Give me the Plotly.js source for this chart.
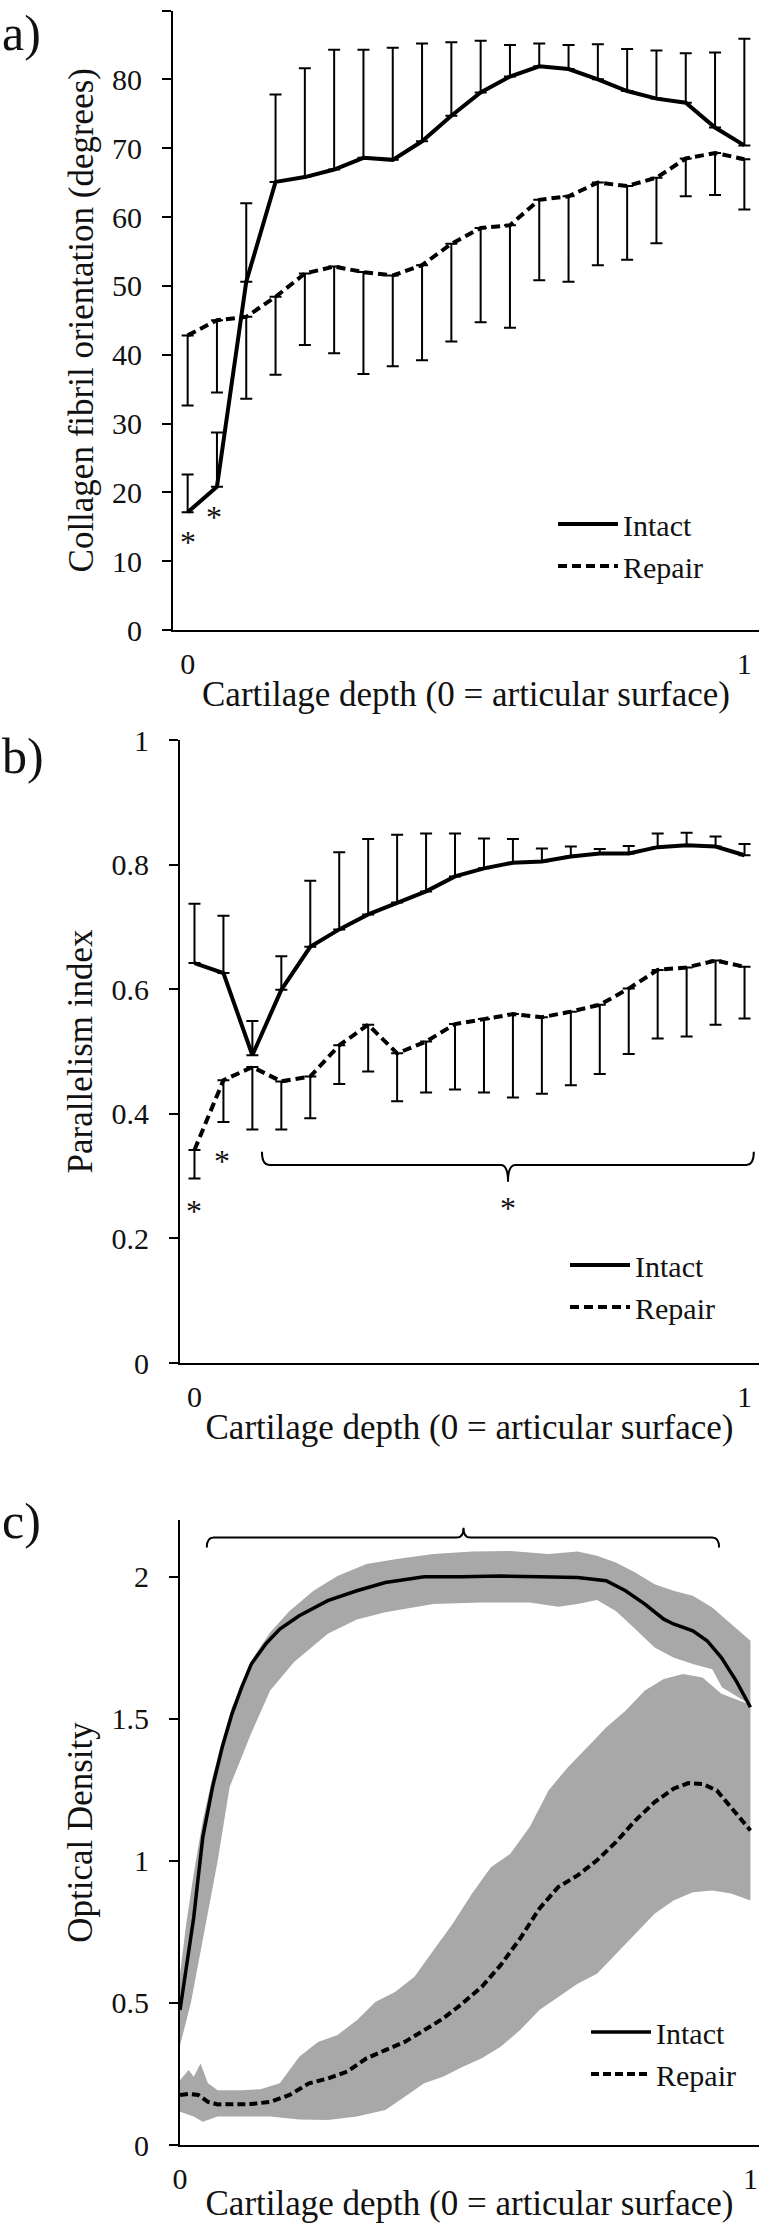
<!DOCTYPE html>
<html>
<head>
<meta charset="utf-8">
<script src="https://cdn.plot.ly/plotly-3.0.1.min.js"></script>
<style>
  html, body { margin: 0; padding: 0; background: #fff; }
  #fig { width: 759px; height: 2223px; }
</style>
</head>
<body>
<div id="fig"></div>
<script>
// depth bins (Excel category axis, 0 = articular surface ... 1 = bone)
var depthBins = [1, 2, 3, 4, 5, 6, 7, 8, 9, 10, 11, 12, 13, 14, 15, 16, 17, 18, 19, 20];
var depthTicks = [1, 20];
var depthTickText = ['0', '1'];

// a) collagen fibril orientation (degrees), mean and SD
var aIntact = [17.1, 20.8, 50.6, 65.1, 65.8, 66.9, 68.6, 68.3, 71.0, 74.7, 78.1, 80.4, 81.9, 81.5, 80.0, 78.3, 77.2, 76.6, 73.0, 70.4];
var aIntactSD = [5.5, 7.9, 11.4, 12.7, 15.8, 17.4, 15.7, 16.3, 14.2, 10.7, 7.5, 4.6, 3.3, 3.5, 5.1, 6.1, 7.0, 7.2, 10.9, 15.5];
var aRepair = [42.8, 45.0, 45.5, 48.4, 51.8, 52.8, 52.0, 51.5, 53.0, 56.1, 58.4, 58.8, 62.5, 63.0, 65.0, 64.5, 65.7, 68.5, 69.3, 68.4];
var aRepairSD = [10.2, 10.5, 11.9, 11.3, 10.4, 12.6, 14.8, 13.2, 13.8, 14.2, 13.7, 14.9, 11.7, 12.4, 12.0, 10.7, 9.5, 5.5, 6.1, 7.3];

// b) parallelism index, mean and SD
var bIntact = [0.642, 0.626, 0.494, 0.599, 0.668, 0.696, 0.720, 0.739, 0.757, 0.781, 0.794, 0.803, 0.805, 0.813, 0.818, 0.818, 0.828, 0.831, 0.829, 0.815];
var bIntactSD = [0.095, 0.092, 0.055, 0.054, 0.106, 0.124, 0.121, 0.109, 0.093, 0.069, 0.048, 0.038, 0.021, 0.016, 0.007, 0.012, 0.022, 0.020, 0.016, 0.018];
var bRepair = [0.342, 0.454, 0.475, 0.452, 0.460, 0.510, 0.543, 0.497, 0.516, 0.544, 0.552, 0.560, 0.555, 0.564, 0.575, 0.601, 0.631, 0.635, 0.646, 0.636];
var bRepairSD = [0.046, 0.067, 0.100, 0.077, 0.067, 0.062, 0.075, 0.077, 0.082, 0.105, 0.118, 0.134, 0.123, 0.118, 0.111, 0.105, 0.110, 0.111, 0.103, 0.083];

// c) optical density profiles (depth 0..1)
var cIntactDepth = [0, 0.011, 0.024, 0.032, 0.040, 0.057, 0.074, 0.091, 0.108, 0.125, 0.150, 0.175, 0.209, 0.259, 0.310, 0.360, 0.428, 0.495, 0.562, 0.630, 0.697, 0.747, 0.781, 0.815, 0.848, 0.865, 0.899, 0.924, 0.949, 0.975, 1.0];
var cIntact = [0.475, 0.62, 0.80, 0.943, 1.084, 1.26, 1.40, 1.517, 1.611, 1.693, 1.763, 1.816, 1.863, 1.916, 1.951, 1.98, 2.0, 2.0, 2.003, 2.0, 1.998, 1.986, 1.951, 1.904, 1.851, 1.834, 1.81, 1.775, 1.716, 1.634, 1.541];
var cIntactUpDepth = [0, 0.011, 0.024, 0.040, 0.057, 0.074, 0.091, 0.108, 0.125, 0.158, 0.192, 0.234, 0.276, 0.327, 0.377, 0.444, 0.512, 0.579, 0.646, 0.697, 0.731, 0.764, 0.798, 0.832, 0.865, 0.899, 0.933, 0.966, 1.0];
var cIntactUp = [0.60, 0.78, 0.955, 1.142, 1.295, 1.424, 1.541, 1.617, 1.705, 1.804, 1.88, 1.951, 2.003, 2.045, 2.062, 2.08, 2.089, 2.091, 2.08, 2.089, 2.074, 2.05, 2.015, 1.974, 1.951, 1.933, 1.892, 1.834, 1.775];
var cIntactLoDepth = [0, 0.019, 0.066, 0.087, 0.125, 0.158, 0.200, 0.259, 0.310, 0.360, 0.444, 0.529, 0.613, 0.663, 0.697, 0.731, 0.764, 0.798, 0.832, 0.865, 0.899, 0.933, 0.950, 1.0];
var cIntactLo = [0.35, 0.50, 1.0, 1.26, 1.45, 1.60, 1.70, 1.80, 1.85, 1.875, 1.904, 1.91, 1.91, 1.895, 1.904, 1.918, 1.88, 1.816, 1.751, 1.716, 1.693, 1.675, 1.611, 1.55];
var cRepairDepth = [0, 0.015, 0.032, 0.049, 0.066, 0.091, 0.125, 0.158, 0.192, 0.226, 0.259, 0.293, 0.327, 0.360, 0.394, 0.428, 0.461, 0.495, 0.529, 0.562, 0.596, 0.630, 0.663, 0.697, 0.731, 0.764, 0.798, 0.832, 0.865, 0.891, 0.916, 0.941, 0.966, 1.0];
var cRepair = [0.176, 0.18, 0.176, 0.152, 0.143, 0.143, 0.144, 0.152, 0.176, 0.217, 0.234, 0.258, 0.305, 0.334, 0.363, 0.404, 0.445, 0.498, 0.557, 0.633, 0.726, 0.832, 0.908, 0.949, 1.002, 1.066, 1.142, 1.207, 1.254, 1.274, 1.271, 1.248, 1.189, 1.107];
var cRepairUpDepth = [0, 0.015, 0.024, 0.036, 0.049, 0.066, 0.108, 0.141, 0.175, 0.209, 0.242, 0.276, 0.310, 0.343, 0.377, 0.411, 0.444, 0.478, 0.512, 0.545, 0.579, 0.613, 0.646, 0.680, 0.714, 0.747, 0.781, 0.815, 0.848, 0.882, 0.916, 0.949, 1.0];
var cRepairUp = [0.228, 0.264, 0.24, 0.287, 0.217, 0.193, 0.193, 0.196, 0.217, 0.311, 0.363, 0.387, 0.439, 0.504, 0.539, 0.592, 0.685, 0.779, 0.885, 0.978, 1.025, 1.119, 1.248, 1.33, 1.40, 1.47, 1.529, 1.6, 1.64, 1.658, 1.646, 1.588, 1.55];
var cRepairLoDepth = [0, 0.024, 0.040, 0.066, 0.108, 0.158, 0.209, 0.259, 0.310, 0.360, 0.394, 0.428, 0.461, 0.495, 0.529, 0.562, 0.596, 0.630, 0.663, 0.697, 0.731, 0.764, 0.798, 0.832, 0.865, 0.899, 0.933, 0.966, 1.0];
var cRepairLo = [0.117, 0.1, 0.082, 0.1, 0.1, 0.1, 0.09, 0.088, 0.1, 0.123, 0.17, 0.217, 0.24, 0.275, 0.305, 0.346, 0.404, 0.475, 0.521, 0.568, 0.603, 0.674, 0.744, 0.814, 0.861, 0.89, 0.896, 0.885, 0.861];

var W = 759, H = 2223;
var serif = '"Liberation Serif", "Times New Roman", Times, serif';
var ink = '#111';
var bandGrey = '#a8a8a8';
var zeros = depthBins.map(function () { return 0; });

function band(xu, yu, xl, yl, axis) {
  // closed polygon: upper edge left->right, lower edge right->left
  return {
    x: xu.concat(xl.slice().reverse()),
    y: yu.concat(yl.slice().reverse()),
    xaxis: 'x' + axis, yaxis: 'y' + axis,
    type: 'scatter', mode: 'lines', fill: 'toself',
    fillcolor: bandGrey, line: { width: 0 },
    showlegend: false, hoverinfo: 'skip'
  };
}

function barTrace(name, y, sd, up, axis, legend, dash) {
  return {
    x: depthBins, y: y, name: name,
    xaxis: 'x' + axis, yaxis: 'y' + axis, legend: legend,
    type: 'scatter', mode: 'lines',
    line: { color: '#000', width: 4, dash: dash },
    error_y: {
      type: 'data', symmetric: false,
      array: up ? sd : zeros, arrayminus: up ? zeros : sd,
      color: '#000', thickness: 2, width: 6
    }
  };
}

var data = [
  barTrace('Repair', aRepair, aRepairSD, false, '', 'legend', '9px,5px'),
  barTrace('Intact', aIntact, aIntactSD, true, '', 'legend', 'solid'),
  barTrace('Repair', bRepair, bRepairSD, false, '2', 'legend2', '9px,5px'),
  barTrace('Intact', bIntact, bIntactSD, true, '2', 'legend2', 'solid'),
  band(cRepairUpDepth, cRepairUp, cRepairLoDepth, cRepairLo, '3'),
  band(cIntactUpDepth, cIntactUp, cIntactLoDepth, cIntactLo, '3'),
  { x: cRepairDepth, y: cRepair, name: 'Repair', xaxis: 'x3', yaxis: 'y3', legend: 'legend3',
    type: 'scatter', mode: 'lines', line: { color: '#000', width: 4, dash: '8px,4px' } },
  { x: cIntactDepth, y: cIntact, name: 'Intact', xaxis: 'x3', yaxis: 'y3', legend: 'legend3',
    type: 'scatter', mode: 'lines', line: { color: '#000', width: 3.5 } }
];

function yAxis(top, bottom, title, range, extra) {
  var ax = {
    domain: [1 - bottom / H, 1 - top / H], range: range,
    showline: true, linecolor: '#000', linewidth: 2,
    ticks: 'outside', ticklen: 9, tickwidth: 2, tickcolor: '#000',
    ticklabelstandoff: 14, tickfont: { size: 30 },
    showgrid: false, zeroline: false, automargin: false, fixedrange: true,
    title: { text: title, font: { size: 35 }, standoff: 8 }
  };
  return Object.assign(ax, extra || {});
}

function xAxis(left, anchor, range, extra) {
  var ax = {
    domain: [left / W, 1], anchor: anchor, range: range,
    showline: true, linecolor: '#000', linewidth: 2,
    ticks: '', ticklabelstandoff: 6, tickfont: { size: 30 },
    showgrid: false, zeroline: false, automargin: false, fixedrange: true,
    title: { text: 'Cartilage depth (0 = articular surface)', font: { size: 35 }, standoff: 2 }
  };
  return Object.assign(ax, extra || {});
}

// legend samples in the figure are long (about 60 px)
function legendAt(textX, firstY) {
  return {
    x: (textX - 75) / W, y: 1 - (firstY - 24) / H, xanchor: 'left', yanchor: 'top',
    bgcolor: 'rgba(0,0,0,0)', font: { size: 30 }, traceorder: 'reversed', itemwidth: 60
  };
}

function star(x, y, xr, yr) {
  return { x: x, y: y, xref: xr, yref: yr, text: '*', showarrow: false,
           font: { size: 32, color: ink }, yshift: -8 };
}

function panelLabel(text, cy) {
  return { x: 0, y: 1 - cy / H, xref: 'paper', yref: 'paper', xanchor: 'left', yanchor: 'middle',
           text: text, showarrow: false, font: { size: 50, color: ink } };
}

function brace(xr, yr, x0, x1, xc, yLine, yEnd, yTip, dx) {
  var p = 'M' + x0 + ',' + yEnd + ' Q' + x0 + ',' + yLine + ' ' + (x0 + dx) + ',' + yLine +
          ' L' + (xc - dx) + ',' + yLine + ' Q' + xc + ',' + yLine + ' ' + xc + ',' + yTip +
          ' Q' + xc + ',' + yLine + ' ' + (xc + dx) + ',' + yLine +
          ' L' + (x1 - dx) + ',' + yLine + ' Q' + x1 + ',' + yLine + ' ' + x1 + ',' + yEnd;
  return { type: 'path', xref: xr, yref: yr, path: p, line: { color: '#000', width: 2 } };
}

var layout = {
  width: W, height: H,
  margin: { l: 0, r: 0, t: 0, b: 0 },
  paper_bgcolor: '#fff', plot_bgcolor: 'rgba(0,0,0,0)',
  font: { family: serif, color: ink },
  showlegend: true,
  xaxis: xAxis(173, 'y', [0.5, 20.5], { tickvals: depthTicks, ticktext: depthTickText }),
  yaxis: yAxis(10.5, 630, 'Collagen fibril orientation (degrees)', [0, 90], { dtick: 10, anchor: 'x' }),
  xaxis2: xAxis(180, 'y2', [0.5, 20.5], { tickvals: depthTicks, ticktext: depthTickText }),
  yaxis2: yAxis(740, 1363, 'Parallelism index', [0, 1], { dtick: 0.2, anchor: 'x2' }),
  xaxis3: xAxis(180, 'y3', [0, 1.015], { tickvals: [0, 1], ticktext: ['0', '1'] }),
  yaxis3: yAxis(1520, 2145, 'Optical Density', [0, 2.2], { tickvals: [0, 0.5, 1, 1.5, 2], anchor: 'x3' }),
  legend: legendAt(628, 522),
  legend2: legendAt(640, 1263),
  legend3: legendAt(661, 2030),
  shapes: [
    brace('x2', 'y2', 3.33, 20.32, 11.83, 0.318, 0.339, 0.291, 0.25),
    brace('x3', 'y3', 0.047, 0.945, 0.497, 2.138, 2.103, 2.173, 0.012)
  ],
  annotations: [
    panelLabel('a)', 33), panelLabel('b)', 756), panelLabel('c)', 1521),
    star(1.0, 14.0, 'x', 'y'), star(1.9, 17.6, 'x', 'y'),
    star(1.0, 0.257, 'x2', 'y2'), star(1.95, 0.337, 'x2', 'y2'), star(11.83, 0.262, 'x2', 'y2'),
    star(0.497, 2.232, 'x3', 'y3')
  ]
};

Plotly.newPlot('fig', data, layout, { displayModeBar: false, staticPlot: true });
</script>
</body>
</html>
